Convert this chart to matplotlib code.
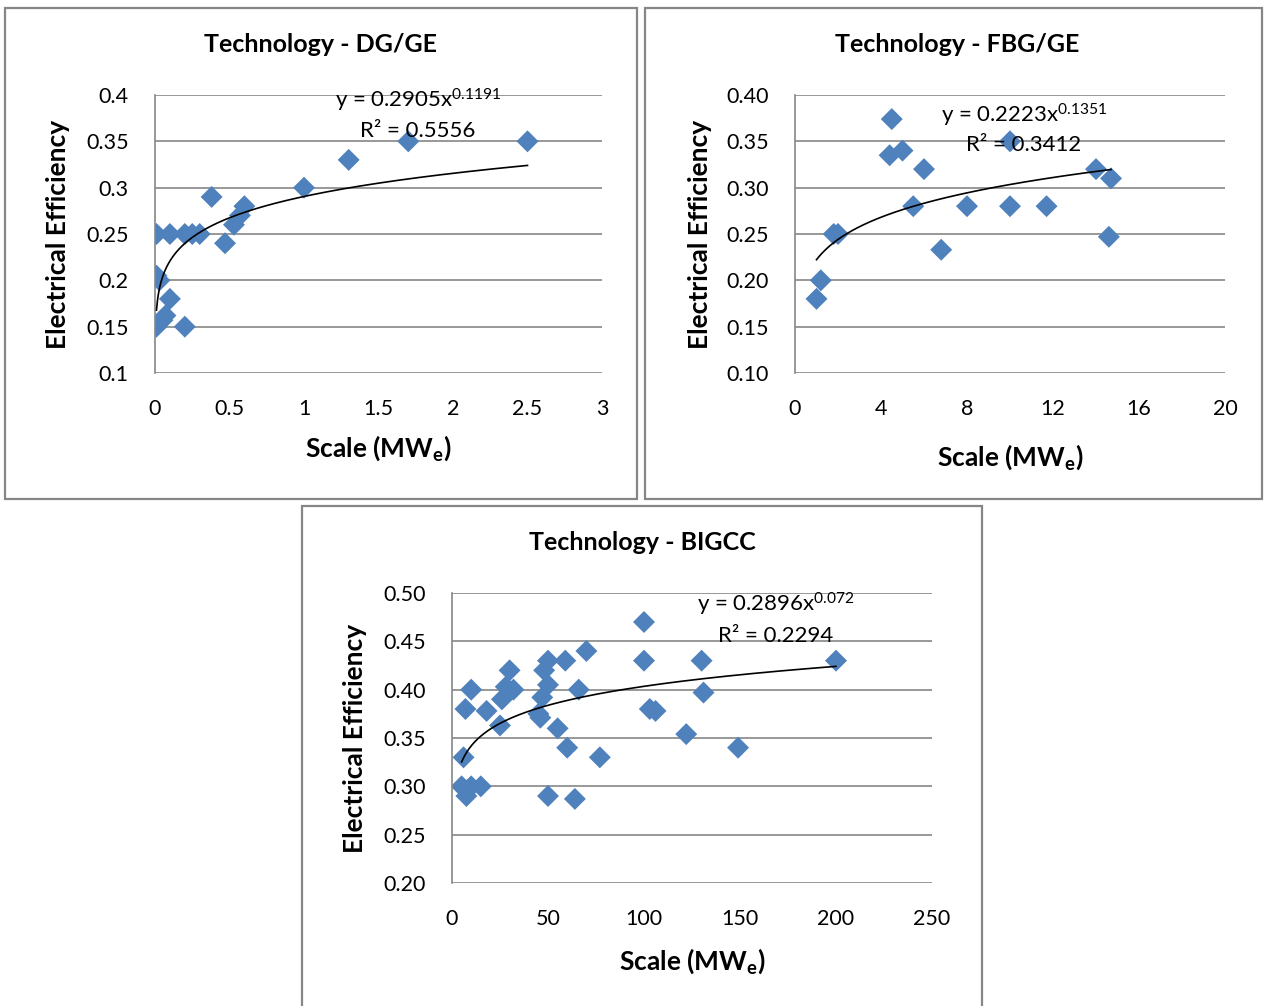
## efficiency vs. scale scatter plots with power-law trendlines

import numpy as np
import matplotlib
matplotlib.use("Agg")
import matplotlib.pyplot as plt
from matplotlib import rcParams
from matplotlib.patches import Rectangle

rcParams['font.family'] = ['Lato', 'DejaVu Sans']
rcParams['mathtext.fontset'] = 'custom'
rcParams['mathtext.rm'] = 'Lato'
rcParams['mathtext.it'] = 'Lato:italic'
rcParams['mathtext.bf'] = 'Lato:bold'
rcParams['mathtext.default'] = 'regular'

# DG/GE
dg_scale = [0.01, 0.1, 0.2, 0.25, 0.3, 0.38, 0.47, 0.53, 0.57, 0.6, 1.0, 1.3, 1.7, 2.5,
            0.01, 0.03, 0.1, 0.07, 0.05, 0.01, 0.2]
dg_eff = [0.25, 0.25, 0.25, 0.25, 0.25, 0.29, 0.24, 0.26, 0.27, 0.28, 0.30, 0.33, 0.35, 0.35,
          0.205, 0.20, 0.18, 0.162, 0.157, 0.15, 0.15]
dg_fit = (0.2905, 0.1191)

# FBG/GE
fbg_scale = [4.5, 4.4, 5.0, 6.0, 5.5, 6.8, 8.0, 10.0, 10.0, 11.7, 14.0, 14.7, 14.6,
             1.8, 2.0, 1.2, 1.0]
fbg_eff = [0.374, 0.335, 0.34, 0.32, 0.28, 0.233, 0.28, 0.28, 0.35, 0.28, 0.32, 0.31, 0.247,
           0.25, 0.25, 0.20, 0.18]
fbg_fit = (0.2223, 0.1351)

# BIGCC
bigcc_scale = [100, 100, 130, 200, 70, 59, 50, 48, 50, 30, 28, 32, 26, 10, 7, 18, 25,
               47, 45, 46, 66, 55, 60, 77, 103, 106, 131, 122, 149, 6, 5, 10, 15, 7.5, 8,
               50, 64]
bigcc_eff = [0.47, 0.43, 0.43, 0.43, 0.44, 0.43, 0.43, 0.42, 0.405, 0.42, 0.403, 0.40, 0.39,
             0.40, 0.38, 0.378, 0.363, 0.392, 0.375, 0.371, 0.40, 0.36, 0.34, 0.33, 0.38,
             0.378, 0.397, 0.354, 0.34, 0.33, 0.30, 0.30, 0.30, 0.29, 0.296, 0.29, 0.287]
bigcc_fit = (0.2896, 0.072)

dg_xticks = [0, 0.5, 1, 1.5, 2, 2.5, 3]
dg_xlabels = ["0", "0.5", "1", "1.5", "2", "2.5", "3"]
dg_yticks = [0.1, 0.15, 0.2, 0.25, 0.3, 0.35, 0.4]
dg_ylabels = ["0.1", "0.15", "0.2", "0.25", "0.3", "0.35", "0.4"]
fbg_xticks = [0, 4, 8, 12, 16, 20]
fbg_yticks = [0.10, 0.15, 0.20, 0.25, 0.30, 0.35, 0.40]
bigcc_xticks = [0, 50, 100, 150, 200, 250]
bigcc_yticks = [0.20, 0.25, 0.30, 0.35, 0.40, 0.45, 0.50]

W, H = 1266, 1006
grid_col = "#868686"
mk_col = "#4F81BD"


def px_axes(fig, x0, y0, x1, y1):
    """axes from pixel box (top-left origin)"""
    return fig.add_axes([x0 / W, 1 - y1 / H, (x1 - x0) / W, (y1 - y0) / H])


def chart_box(fig, x0, y0, x1, y1):
    fig.patches.append(Rectangle((x0 / W, 1 - y1 / H), (x1 - x0) / W, (y1 - y0) / H,
                                 transform=fig.transFigure, fill=False,
                                 edgecolor=grid_col, lw=1.6, zorder=0))


def draw_panel(ax, xs, ys, fit, xticks, xlabels, yticks, ylabels, eq_x, eq_y, r2_y, eq, r2,
               xlab_pad):
    ax.set_xlim(xticks[0], xticks[-1])
    ax.set_ylim(yticks[0], yticks[-1])
    ax.set_xticks(xticks)
    ax.set_xticklabels(xlabels)
    ax.set_yticks(yticks)
    ax.set_yticklabels(ylabels)
    ax.tick_params(length=0, labelsize=15.5, pad=19)
    ax.tick_params(axis='x', pad=19)
    for s in ['top', 'right', 'bottom']:
        ax.spines[s].set_visible(False)
    ax.spines['left'].set_color(grid_col)
    ax.spines['left'].set_linewidth(1.2)
    for yv in yticks:
        ax.axhline(yv, color=grid_col, lw=1.2, zorder=1)

    a, b = fit
    xf = np.linspace(min(xs), max(xs), 400)
    ax.plot(xf, a * xf ** b, color="black", lw=1.2, zorder=3)
    ax.scatter(xs, ys, marker="D", s=125, color=mk_col, edgecolors="none", zorder=2)

    ax.text(eq_x, eq_y, eq, ha="center", va="center", fontsize=16, zorder=4)
    ax.text(eq_x, r2_y, r2, ha="center", va="center", fontsize=16, zorder=4)
    ax.set_xlabel(r"Scale (MW$_{\mathbf{e}}$)", fontsize=19, fontweight="bold",
                  labelpad=xlab_pad)
    ax.set_ylabel("Electrical Efficiency", fontsize=19, fontweight="bold")


fig = plt.figure(figsize=(W / 100, H / 100), dpi=100)

chart_box(fig, 5, 8, 637, 499)
chart_box(fig, 645, 8, 1262, 499)
chart_box(fig, 302, 506, 982, 1010)

ax1 = px_axes(fig, 155, 95, 602, 373)
draw_panel(ax1, dg_scale, dg_eff, dg_fit, dg_xticks, dg_xlabels, dg_yticks, dg_ylabels,
           1.765, 0.3946, 0.361, "y = 0.2905x$^{0.1191}$", "R² = 0.5556", 10)
ax1.yaxis.set_label_coords(-0.19, 0.5)

ax2 = px_axes(fig, 795, 95, 1225, 373)
draw_panel(ax2, fbg_scale, fbg_eff, fbg_fit, fbg_xticks, [str(v) for v in fbg_xticks],
           fbg_yticks, ["%.2f" % v for v in fbg_yticks],
           10.65, 0.378, 0.346, "y = 0.2223x$^{0.1351}$", "R² = 0.3412", 17)
ax2.yaxis.set_label_coords(-0.193, 0.5)

ax3 = px_axes(fig, 452, 593, 932, 883)
draw_panel(ax3, bigcc_scale, bigcc_eff, bigcc_fit, bigcc_xticks, [str(v) for v in bigcc_xticks],
           bigcc_yticks, ["%.2f" % v for v in bigcc_yticks],
           168.5, 0.488, 0.455, "y = 0.2896x$^{0.072}$", "R² = 0.2294", 12)
ax3.yaxis.set_label_coords(-0.177, 0.5)

fig.text(321 / W, 1 - 45 / H, "Technology - DG/GE", ha="center", va="center",
         fontsize=18, fontweight="bold")
fig.text(957 / W, 1 - 45 / H, "Technology - FBG/GE", ha="center", va="center",
         fontsize=18, fontweight="bold")
fig.text(642 / W, 1 - 543 / H, "Technology - BIGCC", ha="center", va="center",
         fontsize=18, fontweight="bold")

fig.savefig("out.png", dpi=100)
